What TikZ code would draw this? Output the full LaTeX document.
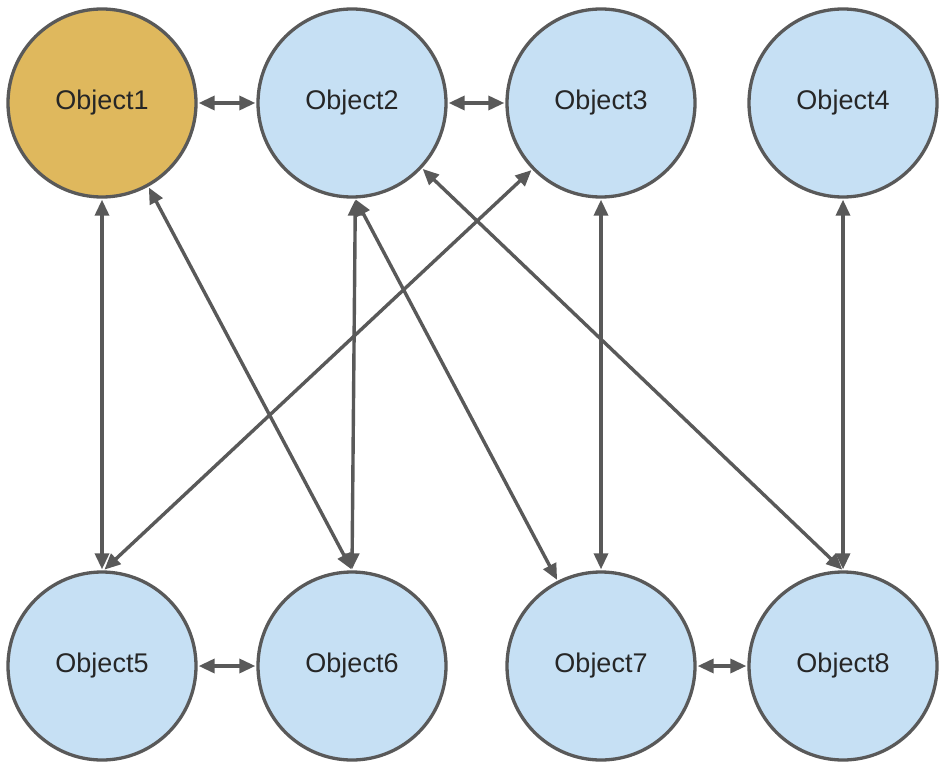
\documentclass[tikz,border=0pt]{standalone}
\usepackage{fontspec}
\setmainfont{Liberation Sans}
\usetikzlibrary{arrows.meta}
\definecolor{objblue}{RGB}{198,224,244}
\definecolor{objgold}{RGB}{223,184,93}
\definecolor{edgegray}{RGB}{89,89,89}
\begin{document}
\begin{tikzpicture}[x=1pt,y=-1pt,
  obj/.style={circle,draw=edgegray,line width=3.3pt,minimum size=188pt,inner sep=0pt,
    fill=objblue,text=black!85,font=\fontsize{27}{32}\selectfont},
  link/.style={draw=edgegray,line width=3.4pt,
    {Triangle[length=16pt,width=14pt]}-{Triangle[length=16pt,width=14pt]},shorten <=1pt,shorten >=1pt}]
\useasboundingbox (0,0) rectangle (952,770);
\node[obj,fill=objgold] (o1) at (102,103) {Object1};
\node[obj] (o2) at (352,103) {Object2};
\node[obj] (o3) at (601,103) {Object3};
\node[obj] (o4) at (843,103) {Object4};
\node[obj] (o5) at (102,666) {Object5};
\node[obj] (o6) at (352,666) {Object6};
\node[obj] (o7) at (601,666) {Object7};
\node[obj] (o8) at (843,666) {Object8};
\draw[link] (o1.east) -- (o2.west);
\draw[link] (o2.east) -- (o3.west);
\draw[link] (o5.east) -- (o6.west);
\draw[link] (o7.east) -- (o8.west);
\draw[link] (o1.south) -- (o5.north);
\draw[link] (o1.-61) -- (o6.north);
\draw[link] (o2.-88) -- (o6.north);
\draw[link] (o2.-88) -- (o7.117);
\draw[link] (o2.-43) -- (o8.north);
\draw[link] (o3.-136) -- (o5.89);
\draw[link] (o3.south) -- (o7.north);
\draw[link] (o4.south) -- (o8.north);
\end{tikzpicture}
\end{document}
